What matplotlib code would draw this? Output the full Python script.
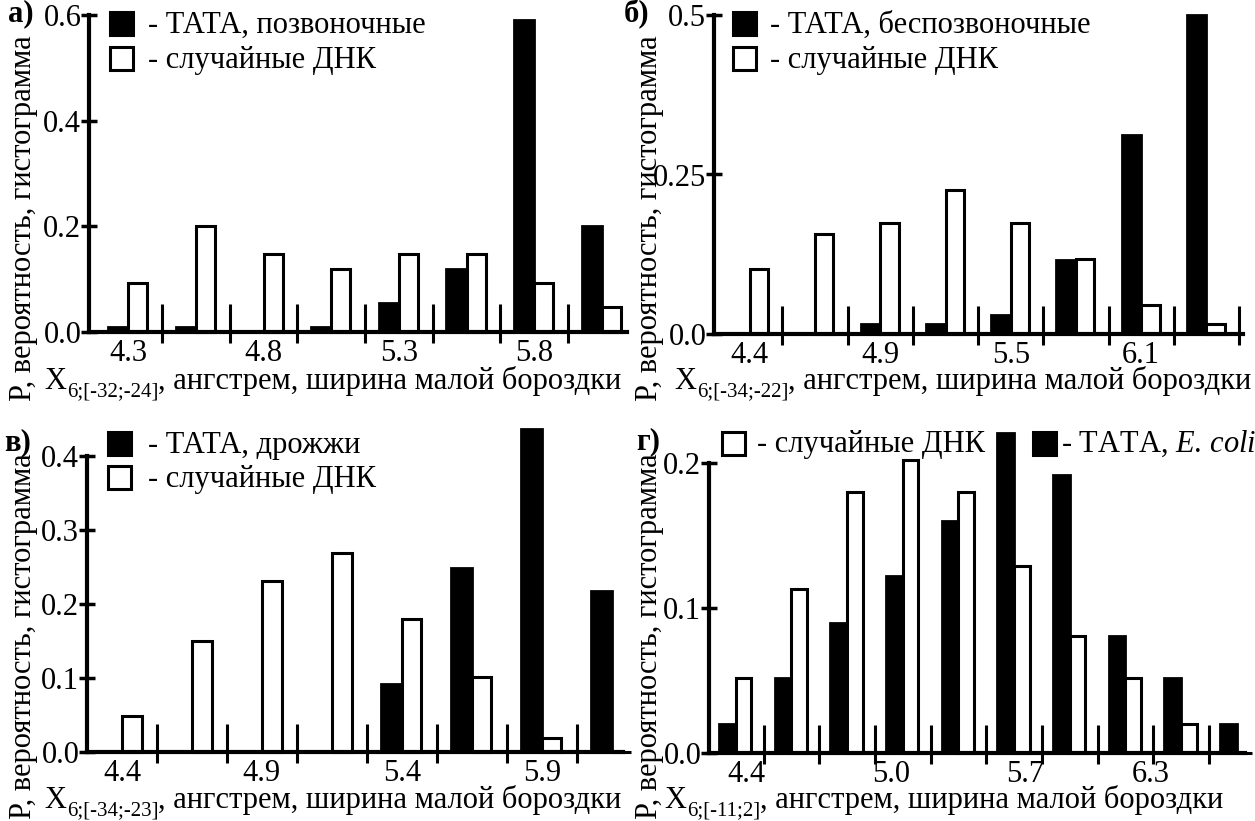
import matplotlib
matplotlib.use('Agg')
import numpy as np
import matplotlib.pyplot as plt
from matplotlib.patches import Rectangle

plt.rcParams['font.family'] = 'Liberation Serif'
plt.rcParams['mathtext.fontset'] = 'custom'
plt.rcParams['mathtext.rm'] = 'Liberation Serif'
plt.rcParams['mathtext.it'] = 'Liberation Serif:italic'
plt.rcParams['font.size'] = 22

# values (probability per bin)
a_tata = [0.01, 0.01, 0.0, 0.01, 0.055, 0.12, 0.59, 0.2]
a_rand = [0.093, 0.2, 0.148, 0.12, 0.148, 0.148, 0.093, 0.047]
a_xlabels = ['4.3', '4.8', '5.3', '5.8']

b_tata = [0.0, 0.0, 0.015, 0.015, 0.03, 0.116, 0.312, 0.5]
b_rand = [0.102, 0.157, 0.174, 0.226, 0.174, 0.118, 0.046, 0.015]
b_xlabels = ['4.4', '4.9', '5.5', '6.1']

c_tata = [0.0, 0.0, 0.0, 0.0, 0.092, 0.249, 0.436, 0.217]
c_rand = [0.048, 0.15, 0.231, 0.269, 0.18, 0.101, 0.019, 0.0]
c_xlabels = ['4.4', '4.9', '5.4', '5.9']

d_tata = [0.02, 0.052, 0.09, 0.122, 0.16, 0.221, 0.192, 0.081, 0.052, 0.02]
d_rand = [0.052, 0.113, 0.18, 0.202, 0.18, 0.129, 0.081, 0.052, 0.02, 0.0]
d_xlabels = ['4.4', '5.0', '5.7', '6.3']

ylab = 'P, вероятность, гистограмма'
xlab = ', ангстрем, ширина малой бороздки'
rand_lab = '- случайные ДНК'

W, H = 1255, 821
fig = plt.figure(figsize=(W / 100, H / 100), dpi=100)
rend = fig.canvas.get_renderer()


def fx(x):
    return x / W


def fy(y):
    return 1 - y / H


def square(x, y, filled, s=23):
    fig.add_artist(Rectangle((fx(x), fy(y + s)), s / W, s / H, transform=fig.transFigure,
                             facecolor='black' if filled else 'white', edgecolor='black', lw=2.2))


def xlabel(x, y, sub):
    # X with a subscript, then the rest of the label
    t = fig.text(fx(x), fy(y), 'X', va='baseline')
    x += t.get_window_extent(rend).width + 1
    t = fig.text(fx(x), fy(y + 7), sub, fontsize=15, va='baseline')
    x += t.get_window_extent(rend).width
    fig.text(fx(x), fy(y), xlab, va='baseline')


def ylabel(x, y):
    fig.text(fx(x), fy(y), ylab, rotation=90, rotation_mode='anchor',
             ha='left', va='baseline')


def panel(x0, x1, y0, y1, xlim, tata, rand, yticks, ylabels, xpos, xlabels):
    ax = fig.add_axes([fx(x0), fy(y0), fx(x1) - fx(x0), fy(y1) - fy(y0)])
    idx = np.arange(len(tata))
    ax.bar(idx - 0.3, tata, width=0.3, align='edge', color='black', edgecolor='black',
           lw=2, clip_on=False)
    ax.bar(idx, rand, width=0.28, align='edge', color='white', edgecolor='black',
           lw=2.2, clip_on=False)
    h = y0 - y1
    bounds = [b for b in idx + 0.5 if b < xlim[1] - 0.02]
    ax.vlines(bounds, -11 / h, 28 / h, transform=ax.get_xaxis_transform(),
              colors='black', lw=2.2, clip_on=False)
    ax.set_xlim(*xlim)
    ax.set_ylim(yticks[0], yticks[-1])
    for s in ['top', 'right']:
        ax.spines[s].set_visible(False)
    for s in ['left', 'bottom']:
        ax.spines[s].set_linewidth(3)
        ax.spines[s].set_zorder(3)
    ax.set_yticks(yticks, ylabels)
    ax.set_xticks(xpos, xlabels)
    ax.tick_params(axis='y', direction='inout', length=11, width=2.5, pad=0)
    ax.tick_params(axis='x', length=0, pad=5)
    ax.patch.set_alpha(0)
    return ax


# а) vertebrates
panel(89, 627, 332, 15, (-0.58, 7.37), a_tata, a_rand,
      [0, 0.2, 0.4, 0.6], ['0.0', '0.2', '0.4', '0.6'], [0, 2, 4, 6], a_xlabels)
fig.text(fx(8), fy(21), 'а)', fontweight='bold', va='baseline')
square(110, 12, True)
square(110, 47, False)
fig.text(fx(148), fy(33), '- ТАТА, позвоночные', va='baseline')
fig.text(fx(148), fy(68), rand_lab, va='baseline')
xlabel(44, 389, '6;[-32;-24]')
ylabel(31, 401)

# б) invertebrates
panel(714, 1243, 334, 15, (-0.55, 7.56), b_tata, b_rand,
      [0, 0.25, 0.5], ['0.0', '0.25', '0.5'], [0, 2, 4, 6], b_xlabels)
fig.text(fx(624), fy(21), 'б)', fontweight='bold', va='baseline')
square(733, 12, True)
square(733, 47, False)
fig.text(fx(770), fy(33), '- ТАТА, беспозвоночные', va='baseline')
fig.text(fx(770), fy(68), rand_lab, va='baseline')
xlabel(674, 389, '6;[-34;-22]')
ylabel(657, 401)

# в) yeast
panel(87, 623, 752, 456, (-0.5, 7.16), c_tata, c_rand,
      [0, 0.1, 0.2, 0.3, 0.4], ['0.0', '0.1', '0.2', '0.3', '0.4'], [0, 2, 4, 6], c_xlabels)
fig.text(fx(4), fy(450), 'в)', fontweight='bold', va='baseline')
square(108, 432, True)
square(108, 466, False)
fig.text(fx(148), fy(453), '- ТАТА, дрожжи', va='baseline')
fig.text(fx(148), fy(487), rand_lab, va='baseline')
xlabel(44, 808, '6;[-34;-23]')
ylabel(31, 819)

# г) E. coli
panel(709, 1245, 753, 463, (-0.48, 9.15), d_tata, d_rand,
      [0, 0.1, 0.2], ['0.0', '0.1', '0.2'], [0.2, 2.8, 5.2, 7.45], d_xlabels)
fig.text(fx(636), fy(449), 'г)', fontweight='bold', va='baseline')
square(722, 432, False)
fig.text(fx(757), fy(452), rand_lab, va='baseline')
square(1033, 432, True)
fig.text(fx(1061), fy(452), '- ТАТА, $\\mathit{E.\\,coli}$', va='baseline')
xlabel(664, 808, '6;[-11;2]')
ylabel(657, 819)

fig.savefig('out.png', dpi=100)
